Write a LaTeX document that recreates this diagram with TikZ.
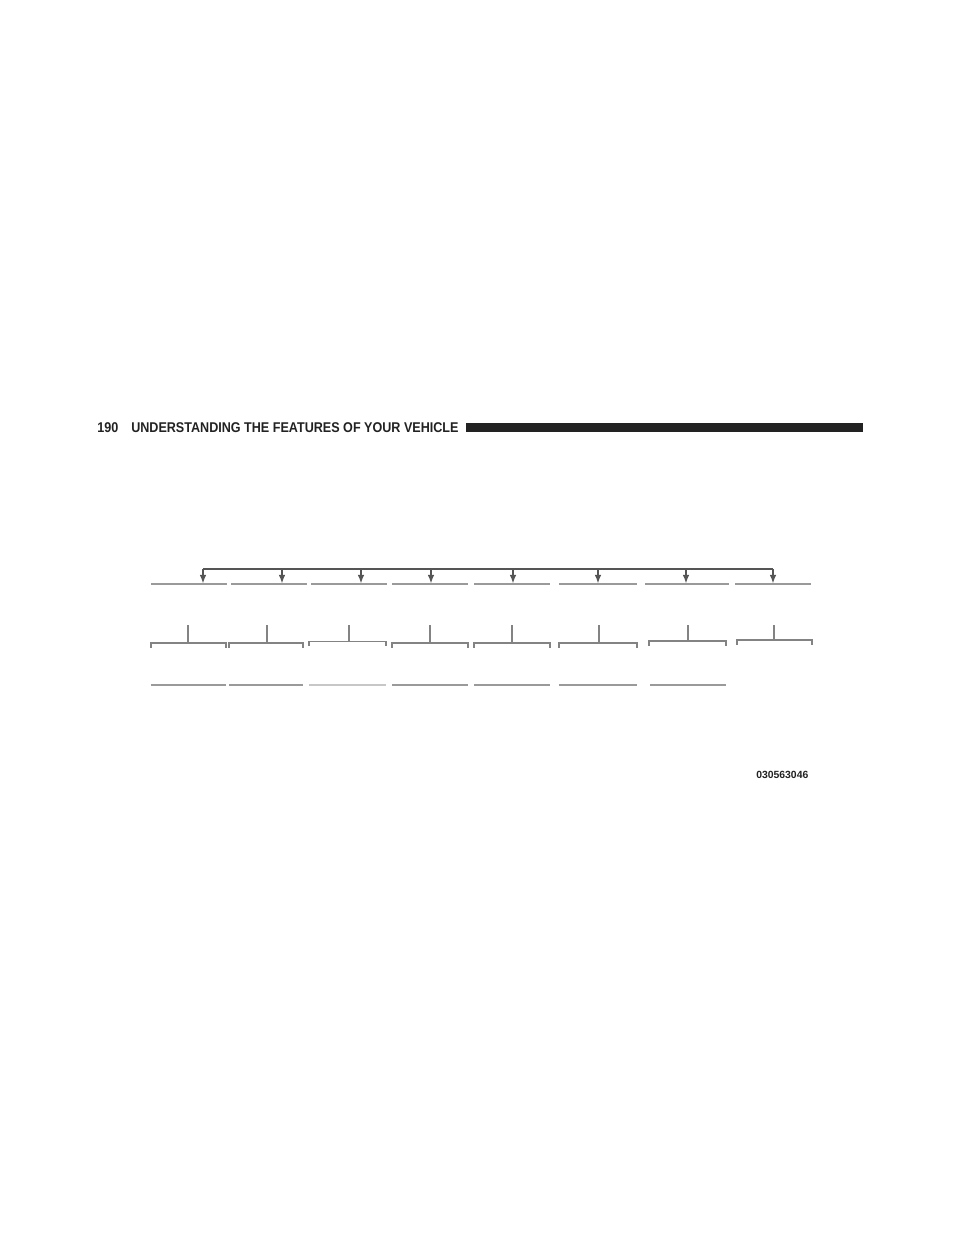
\documentclass[tikz,border=0pt]{standalone}
\usepackage{fontspec}
\setmainfont{Liberation Sans}
\newfontfamily\hdrfont[FakeStretch=0.89]{Liberation Sans}
\usetikzlibrary{arrows.meta}
\definecolor{busgray}{HTML}{555555}
\definecolor{linegray}{HTML}{9A9A9A}
\definecolor{bargray}{HTML}{222222}
\begin{document}
\begin{tikzpicture}[x=0.75pt,y=-0.75pt,
  busline/.style={draw=busgray,line width=1.1pt},
  feed/.style={draw=busgray,line width=1.1pt,-{Latex[length=6.5pt,width=5pt]}},
  rowline/.style={draw=linegray,line width=1.1pt},
  lightline/.style={draw=linegray!55,line width=1.1pt},
  bracket/.style={draw=linegray!85!black,line width=1pt},
  header/.style={font=\hdrfont\bfseries\fontsize{10.6pt}{12pt}\selectfont,text=bargray,inner sep=0pt,anchor=base west},
  idtext/.style={font=\bfseries\fontsize{7.8pt}{9pt}\selectfont,text=bargray,inner sep=0pt,anchor=base west}]
\useasboundingbox[fill=white] (0,0) rectangle (960,1242);
% header
\node[header] (pg) at (97,432) {190};
\node[header] (ttl) at (131,432) {UNDERSTANDING THE FEATURES OF YOUR VEHICLE};
\fill[bargray] (466,423) rectangle (863,432);
% row 1 lines
\foreach \i/\a/\b in {1/151/227,2/231/307,3/311/387,4/392/468,5/474/550,6/559/637,7/645/729,8/735/811}{
  \coordinate (r1a\i) at (\a,584);
  \coordinate (r1b\i) at (\b,584);
  \draw[rowline] (r1a\i) -- (r1b\i);
}
% bus and arrows
\foreach \i/\x in {1/203,2/282,3/361,4/431,5/513,6/598,7/686,8/773}{
  \coordinate (bus\i) at (\x,569);
  \coordinate (tip\i) at (\x,583.5);
}
\draw[busline] (bus1) -- (bus8);
\foreach \i in {1,...,8}{ \draw[feed] (bus\i) -- (tip\i); }
% row 2 brackets
\foreach \i/\a/\b/\s/\y in {1/151/226/188/643,2/229/303/267/643,3/309/386/349/641.5,4/392/468/430/643,5/474/550/512/643,6/559/637/599/643,7/649/726/688/641,8/737/812/774/640}{
  \coordinate (st\i) at (\s,625);
  \coordinate (sb\i) at (\s,\y);
  \coordinate (ba\i) at (\a,\y);
  \coordinate (bb\i) at (\b,\y);
  \draw[bracket] (st\i) -- (sb\i);
  \draw[bracket] ([yshift=-3.5]ba\i) -- (ba\i) -- (bb\i) -- ([yshift=-3.5]bb\i);
}
% row 3 lines
\foreach \i/\a/\b in {1/151/226,2/229/303,4/392/468,5/474/550,6/559/637,7/650/726}{
  \coordinate (r3a\i) at (\a,685);
  \coordinate (r3b\i) at (\b,685);
  \draw[rowline] (r3a\i) -- (r3b\i);
}
\coordinate (r3a3) at (309,685);
\coordinate (r3b3) at (386,685);
\draw[lightline] (r3a3) -- (r3b3);
% figure id
\node[idtext] (fid) at (756,778) {030563046};
\end{tikzpicture}
\end{document}
